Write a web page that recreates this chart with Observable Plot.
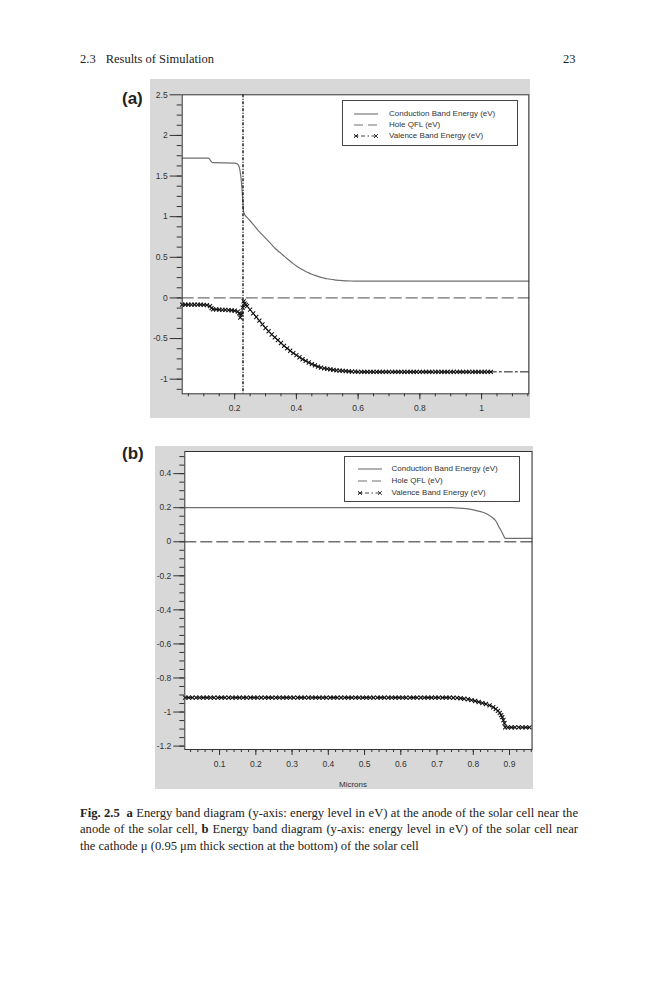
<!DOCTYPE html>
<html>
<head>
<meta charset="utf-8">
<script src="https://cdn.jsdelivr.net/npm/d3@7"></script>
<script src="https://cdn.jsdelivr.net/npm/@observablehq/plot@0.6"></script>
<style>
  html, body { margin: 0; padding: 0; background: #fff; }
  body { width: 659px; height: 1000px; position: relative; overflow: hidden; }
  .serif { font-family: "Liberation Serif", "DejaVu Serif", serif; color: #222; }
  .abs { position: absolute; }
  .panel-label { font: bold 17px "Liberation Sans", Arial, sans-serif; color: #222; }
  .legend { position: absolute; background: #fff; border: 1px solid #444; box-sizing: border-box;
            font: 8px "Liberation Sans", Arial, sans-serif; color: #333; }
  .legend .row { position: absolute; height: 10px; line-height: 10px; white-space: nowrap; }
  .legend svg { position: absolute; top: 1px; }
  .legend .txt { position: absolute; }
  .axlabel { position: absolute; font: 8px "Liberation Sans", Arial, sans-serif; color: #333; transform: translateX(-50%); }
  .cap { position: absolute; left: 80px; width: 498px; font-size: 12.6px; line-height: 16px;
         text-align: justify; text-align-last: justify; white-space: nowrap; }
  .cap.last { text-align-last: left; }
</style>
</head>
<body>
<div class="abs serif" style="left:80px; top:52px; font-size:12.5px;">2.3<span style="display:inline-block;width:10px"></span>Results of Simulation</div>
<div class="abs serif" style="left:563px; top:52px; font-size:12.5px;">23</div>

<div class="abs panel-label" style="left:122px; top:89px;">(a)</div>
<div id="chartA" class="abs" style="left:150px; top:79px;"></div>

<div class="abs panel-label" style="left:122px; top:444px;">(b)</div>
<div id="chartB" class="abs" style="left:155px; top:446px;"></div>
<div id="xlabB" class="axlabel" style="left:353px; top:780px;"></div>

<div class="cap serif" style="top:805px;"><b>Fig. 2.5</b>&nbsp;&nbsp;<b>a</b> Energy band diagram (y-axis: energy level in eV) at the anode of the solar cell near the</div>
<div class="cap serif" style="top:821px;">anode of the solar cell, <b>b</b> Energy band diagram (y-axis: energy level in eV) of the solar cell near</div>
<div class="cap serif last" style="top:838px;">the cathode μ (0.95 μm thick section at the bottom) of the solar cell</div>

<script>
// ---------------- Panel (a): near the anode ----------------
const legendLabels = ["Conduction Band Energy (eV)", "Hole QFL (eV)", "Valence Band Energy (eV)"];

const cbA_x = [0.03, 0.115, 0.12, 0.125, 0.13, 0.20, 0.208, 0.214, 0.218, 0.222, 0.226, 0.229, 0.232,
  0.24, 0.25, 0.26, 0.27, 0.28, 0.29, 0.30, 0.31, 0.32, 0.33, 0.34, 0.35, 0.36, 0.37, 0.38, 0.39, 0.40,
  0.41, 0.42, 0.43, 0.44, 0.45, 0.46, 0.47, 0.48, 0.49, 0.50, 0.51, 0.52, 0.53, 0.54, 0.56, 0.58, 0.60, 1.153];
const cbA_y = [1.72, 1.72, 1.70, 1.675, 1.665, 1.66, 1.65, 1.62, 1.55, 1.42, 1.22, 1.06, 1.03,
  0.99, 0.95, 0.905, 0.86, 0.815, 0.775, 0.735, 0.695, 0.655, 0.615, 0.58, 0.548, 0.515, 0.483, 0.452, 0.422, 0.394,
  0.368, 0.346, 0.326, 0.308, 0.292, 0.278, 0.265, 0.253, 0.244, 0.236, 0.23, 0.225, 0.22, 0.216, 0.211, 0.208, 0.206, 0.206];

const qflA_x = [0.03, 1.153];
const qflA_y = [0, 0];

const vbA_x = [0.03, 0.04, 0.05, 0.06, 0.07, 0.08, 0.09, 0.10, 0.11, 0.12, 0.125, 0.13, 0.14, 0.15, 0.16, 0.17, 0.18, 0.19, 0.20,
  0.21, 0.215, 0.218, 0.222, 0.226, 0.229, 0.232, 0.236, 0.24, 0.25, 0.26, 0.27, 0.28, 0.29, 0.30, 0.31, 0.32, 0.33, 0.34,
  0.35, 0.36, 0.37, 0.38, 0.39, 0.40, 0.41, 0.42, 0.43, 0.44, 0.45, 0.46, 0.47, 0.48, 0.49, 0.50, 0.51, 0.52, 0.53, 0.54,
  0.55, 0.56, 0.57, 0.58, 0.59, 0.60, 0.61, 0.62, 0.63, 0.64, 0.65, 0.66, 0.67, 0.68, 0.69, 0.70, 0.71, 0.72, 0.73, 0.74,
  0.75, 0.76, 0.77, 0.78, 0.79, 0.80, 0.81, 0.82, 0.83, 0.84, 0.85, 0.86, 0.87, 0.88, 0.89, 0.90, 0.91, 0.92, 0.93, 0.94,
  0.95, 0.96, 0.97, 0.98, 0.99, 1.00, 1.01, 1.02, 1.03, 1.153];
const vbA_y = [-0.083, -0.083, -0.083, -0.083, -0.083, -0.083, -0.083, -0.085, -0.088, -0.10, -0.125, -0.14, -0.142, -0.144, -0.146, -0.148, -0.15, -0.153, -0.158,
  -0.168, -0.19, -0.243, -0.20, -0.12, -0.042, -0.07, -0.085, -0.10, -0.145, -0.19, -0.235, -0.28, -0.325, -0.37, -0.41, -0.45, -0.485, -0.52,
  -0.555, -0.59, -0.62, -0.65, -0.68, -0.705, -0.73, -0.755, -0.775, -0.795, -0.815, -0.83, -0.845, -0.857, -0.866, -0.874, -0.88, -0.886, -0.891, -0.895,
  -0.898, -0.901, -0.904, -0.906, -0.908, -0.91, -0.91, -0.91, -0.91, -0.91, -0.91, -0.91, -0.91, -0.91, -0.91, -0.91, -0.91, -0.91, -0.91, -0.91,
  -0.91, -0.91, -0.91, -0.91, -0.91, -0.91, -0.91, -0.91, -0.91, -0.91, -0.91, -0.91, -0.91, -0.91, -0.91, -0.91, -0.91, -0.91, -0.91, -0.91,
  -0.91, -0.91, -0.91, -0.91, -0.91, -0.91, -0.91, -0.91, -0.91, -0.91];
const vbA_markerEnd = 1.03;
const junctionA = [0.227];

const xDomainA = [0.03, 1.153];
const yDomainA = [-1.18, 2.5];
const xTicksA = [0.2, 0.4, 0.6, 0.8, 1];
const yTicksA = [-1, -0.5, 0, 0.5, 1, 1.5, 2, 2.5];

// ---------------- Panel (b): near the cathode ----------------
const cbB_x = [0.005, 0.74, 0.76, 0.78, 0.80, 0.82, 0.83, 0.84, 0.85, 0.86, 0.865, 0.87, 0.875, 0.88, 0.884, 0.888, 0.962];
const cbB_y = [0.2, 0.2, 0.198, 0.194, 0.187, 0.177, 0.17, 0.16, 0.147, 0.128, 0.112, 0.09, 0.072, 0.052, 0.034, 0.02, 0.02];

const qflB_x = [0.004, 0.962];
const qflB_y = [0, 0];

const vbB_x = [0.005, 0.015, 0.025, 0.035, 0.045, 0.055, 0.065, 0.075, 0.085, 0.095, 0.105, 0.115, 0.125, 0.135, 0.145,
  0.155, 0.165, 0.175, 0.185, 0.195, 0.205, 0.215, 0.225, 0.235, 0.245, 0.255, 0.265, 0.275, 0.285, 0.295, 0.305,
  0.315, 0.325, 0.335, 0.345, 0.355, 0.365, 0.375, 0.385, 0.395, 0.405, 0.415, 0.425, 0.435, 0.445, 0.455, 0.465,
  0.475, 0.485, 0.495, 0.505, 0.515, 0.525, 0.535, 0.545, 0.555, 0.565, 0.575, 0.585, 0.595, 0.605, 0.615, 0.625,
  0.635, 0.645, 0.655, 0.665, 0.675, 0.685, 0.695, 0.705, 0.715, 0.725, 0.735, 0.745, 0.755, 0.765, 0.775, 0.785,
  0.795, 0.805, 0.815, 0.825, 0.835, 0.845, 0.855, 0.862, 0.868, 0.873, 0.877, 0.88, 0.883, 0.886, 0.888, 0.895,
  0.905, 0.915, 0.925, 0.935, 0.945, 0.955];
const vbB_y = [-0.915, -0.915, -0.915, -0.915, -0.915, -0.915, -0.915, -0.915, -0.915, -0.915, -0.915, -0.915, -0.915, -0.915, -0.915,
  -0.915, -0.915, -0.915, -0.915, -0.915, -0.915, -0.915, -0.915, -0.915, -0.915, -0.915, -0.915, -0.915, -0.915, -0.915, -0.915,
  -0.915, -0.915, -0.915, -0.915, -0.915, -0.915, -0.915, -0.915, -0.915, -0.915, -0.915, -0.915, -0.915, -0.915, -0.915, -0.915,
  -0.915, -0.915, -0.915, -0.915, -0.915, -0.915, -0.915, -0.915, -0.915, -0.915, -0.915, -0.915, -0.915, -0.915, -0.915, -0.915,
  -0.915, -0.915, -0.915, -0.915, -0.915, -0.915, -0.915, -0.915, -0.915, -0.915, -0.915, -0.916, -0.917, -0.919, -0.922, -0.925,
  -0.93, -0.935, -0.941, -0.947, -0.953, -0.961, -0.972, -0.982, -0.993, -1.005, -1.018, -1.03, -1.048, -1.065, -1.09, -1.09,
  -1.09, -1.09, -1.09, -1.09, -1.09, -1.09];

const xDomainB = [0.004, 0.962];
const yDomainB = [-1.22, 0.53];
const xTicksB = [0.1, 0.2, 0.3, 0.4, 0.5, 0.6, 0.7, 0.8, 0.9];
const yTicksB = [-1.2, -1, -0.8, -0.6, -0.4, -0.2, 0, 0.2, 0.4];
const xLabelB = "Microns";

// ---------------- helpers ----------------
const rows = (xs, ys) => xs.map((x, i) => ({x, y: ys[i]}));
const fmt = d => String(+d.toFixed(3));
const blank = () => "";
const CB_COLOR = "#6f6f6f", QFL_COLOR = "#707070", VB_COLOR = "#111";
const CB_W = 1.2, QFL_DASH = "11,5", VB_DASH = "8,3,2,3";
const TICK_FONT = 8.5;

function bandMarks(cb, qfl, vb, markerEnd) {
  return [
    Plot.frame({fill: "white", stroke: "none"}),
    Plot.line(qfl, {x: "x", y: "y", stroke: QFL_COLOR, strokeWidth: 1.3, strokeDasharray: QFL_DASH}),
    Plot.line(cb, {x: "x", y: "y", stroke: CB_COLOR, strokeWidth: CB_W, curve: "monotone-x"}),
    Plot.line(vb, {x: "x", y: "y", stroke: VB_COLOR, strokeWidth: 1, strokeDasharray: VB_DASH}),
    Plot.dot(vb.filter(d => d.x <= markerEnd), {x: "x", y: "y", symbol: "times", r: 2, stroke: VB_COLOR, strokeWidth: 1.05})
  ];
}

const style = {background: "#d8d8d8", fontFamily: "'Liberation Sans', Arial, sans-serif", fontSize: "8.5px", color: "#333", overflow: "visible"};

const chartA = Plot.plot({
  width: 380, height: 339,
  marginLeft: 31.7, marginTop: 15.3, marginRight: 1.7, marginBottom: 24.7,
  style,
  x: {domain: xDomainA},
  y: {domain: yDomainA},
  marks: [
    ...bandMarks(rows(cbA_x, cbA_y), rows(qflA_x, qflA_y), rows(vbA_x, vbA_y), vbA_markerEnd),
    Plot.ruleX(junctionA, {stroke: "#111", strokeWidth: 1.4, strokeDasharray: "3,1.5,1,1.5"}),
    Plot.axisY(yTicksA, {tickSize: 12, tickPadding: 2.5, tickFormat: fmt, label: null, fontSize: TICK_FONT}),
    Plot.axisY(d3.range(-1.125, 2.5, 0.125), {tickSize: 5, tickFormat: blank, label: null}),
    Plot.axisX(xTicksA, {tickSize: 6, tickPadding: 5, tickFormat: fmt, label: null, fontSize: TICK_FONT}),
    Plot.axisX(d3.range(0.05, 1.16, 0.05), {tickSize: 3, tickFormat: blank, label: null}),
    Plot.frame({stroke: "#333", strokeWidth: 1})
  ]
});
document.getElementById("chartA").append(chartA);

const chartB = Plot.plot({
  width: 378, height: 343,
  marginLeft: 29.3, marginTop: 5, marginRight: 1.5, marginBottom: 40,
  style,
  x: {domain: xDomainB},
  y: {domain: yDomainB},
  marks: [
    ...bandMarks(rows(cbB_x, cbB_y), rows(qflB_x, qflB_y), rows(vbB_x, vbB_y), 1),
    Plot.axisY(yTicksB, {tickSize: 11, tickPadding: 2.5, tickFormat: fmt, label: null, fontSize: TICK_FONT}),
    Plot.axisY(d3.range(-1.2, 0.53, 0.05), {tickSize: 5, tickFormat: blank, label: null}),
    Plot.axisX(xTicksB, {tickSize: 6, tickPadding: 5, tickFormat: fmt, label: null, fontSize: TICK_FONT}),
    Plot.axisX(d3.range(0.02, 0.962, 0.02), {tickSize: 3, tickFormat: blank, label: null}),
    Plot.frame({stroke: "#333", strokeWidth: 1})
  ]
});
document.getElementById("chartB").append(chartB);
document.getElementById("xlabB").textContent = xLabelB;

// ---------------- legends (HTML overlay) ----------------
function sample(kind) {
  const ns = "http://www.w3.org/2000/svg";
  const svg = document.createElementNS(ns, "svg");
  svg.setAttribute("width", 26); svg.setAttribute("height", 8);
  const mk = (tag, attrs) => { const e = document.createElementNS(ns, tag); for (const k in attrs) e.setAttribute(k, attrs[k]); svg.appendChild(e); return e; };
  if (kind === 0) mk("line", {x1: 1, x2: 25, y1: 4, y2: 4, stroke: CB_COLOR, "stroke-width": 1.1});
  if (kind === 1) mk("line", {x1: 1, x2: 25, y1: 4, y2: 4, stroke: QFL_COLOR, "stroke-width": 1.1, "stroke-dasharray": "9,5"});
  if (kind === 2) {
    mk("line", {x1: 4, x2: 22, y1: 4, y2: 4, stroke: VB_COLOR, "stroke-width": 0.8, "stroke-dasharray": "1.5,2.5,4,2.5"});
    const x = (cx) => { mk("path", {d: `M${cx-2},2L${cx+2},6M${cx-2},6L${cx+2},2`, stroke: VB_COLOR, "stroke-width": 0.8, fill: "none"}); };
    x(3); mk("line", {x1: 1, x2: 5, y1: 4, y2: 4, stroke: VB_COLOR, "stroke-width": 0.8}); x(23);
  }
  return svg;
}
function legend(left, top, w, h, rowTops, sampleLeft, textLeft) {
  const box = document.createElement("div");
  box.className = "legend";
  Object.assign(box.style, {left: left + "px", top: top + "px", width: w + "px", height: h + "px"});
  legendLabels.forEach((lab, i) => {
    const r = document.createElement("div");
    r.className = "row";
    r.style.top = (rowTops[i] - 5) + "px";
    r.style.left = "0px";
    const s = sample(i); s.style.left = sampleLeft + "px";
    const t = document.createElement("span"); t.className = "txt"; t.style.left = textLeft + "px"; t.textContent = lab;
    r.appendChild(s); r.appendChild(t);
    box.appendChild(r);
  });
  document.body.appendChild(box);
}
legend(342, 100, 176, 46, [12.7, 23.5, 35], 10, 46);
legend(344, 455.5, 176, 46, [12.6, 24.3, 36], 12, 46.5);
</script>
</body>
</html>
